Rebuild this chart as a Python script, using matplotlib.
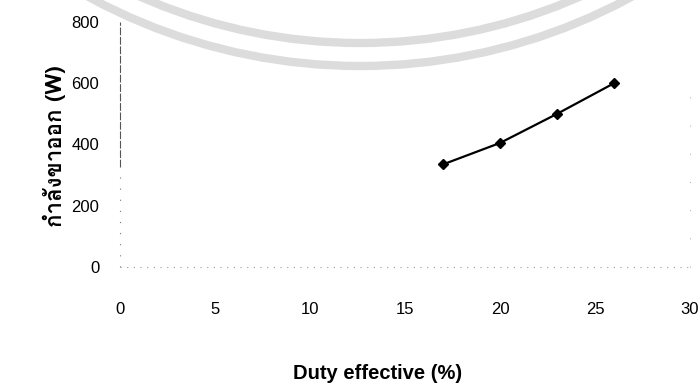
import matplotlib
matplotlib.use("Agg")
import matplotlib.pyplot as plt
from matplotlib import font_manager
from matplotlib.patches import Arc

# Output power versus effective duty
duty = [17, 20, 23, 26]
power = [335, 405, 500, 600]
x_ticks = [0, 5, 10, 15, 20, 25, 30]
y_ticks = [0, 200, 400, 600, 800]
x_label = "Duty effective (%)"
y_label = "กำลังขาออก (W)"


def thai_font():
    """Pick an installed font family covering Thai, preferring one with a bold face."""
    try:
        from fontTools.ttLib import TTFont
    except Exception:
        return None
    found = {}
    for entry in font_manager.fontManager.ttflist:
        try:
            f = TTFont(entry.fname, fontNumber=0, lazy=True)
            cmap = f.getBestCmap() or {}
        except Exception:
            continue
        if ord("ก") in cmap and ord("ำ") in cmap:
            w = entry.weight if isinstance(entry.weight, int) else 400
            found.setdefault(entry.name, set()).add(w)
    if not found:
        return None
    preferred = ["Noto Sans Thai", "Noto Sans Thai UI", "Tahoma", "Loma",
                 "Garuda", "Waree", "Umpush", "Sarabun", "Kinnari", "Norasi"]
    bold = [n for n, ws in found.items() if max(ws) >= 600]
    for name in preferred:
        if name in bold:
            return name
    for name in preferred:
        if name in found:
            return name
    return bold[0] if bold else sorted(found)[0]


base = "Liberation Sans"
thai = thai_font()
label_family = [thai, base] if thai else [base, "DejaVu Sans"]
plt.rcParams["font.family"] = [base, "DejaVu Sans"]

fig = plt.figure(figsize=(7.0, 3.92), dpi=100)
fig.patch.set_facecolor("white")

# faint seal rings across the top of the page
wm = fig.add_axes([0, 0, 1, 1], zorder=0)
wm.set_xlim(0, 700)
wm.set_ylim(392, 0)
wm.axis("off")
for r in (568, 545):
    wm.add_patch(Arc((360, -502), 2 * r, 2 * r, theta1=0, theta2=180,
                     color="#dcdcdc", lw=6.0, zorder=0))

ax = fig.add_axes([120 / 700, 1 - 267 / 392, 570 / 700, 245 / 392], zorder=1)
ax.patch.set_alpha(0)

ax.plot(duty, power, color="black", lw=1.6, marker="D", ms=4.8,
        markerfacecolor="black", markeredgecolor="black", zorder=3,
        clip_on=False)

ax.set_xlim(x_ticks[0], x_ticks[-1])
ax.set_ylim(y_ticks[0], y_ticks[-1])
ax.set_xticks(x_ticks)
ax.set_yticks(y_ticks)
ax.tick_params(axis="both", length=0, labelsize=12, colors="black")
ax.tick_params(axis="x", pad=25)
ax.tick_params(axis="y", pad=15)

for side in ax.spines:
    ax.spines[side].set_visible(False)

# scanned-looking axis lines: dashed upper part of the value axis, sparse dots elsewhere
ax.axvline(0, ymin=0.41, ymax=1.0, color="#555555", lw=0.8,
           ls=(0, (7, 1.5)), clip_on=False)
ax.axvline(0, ymin=0.0, ymax=0.41, color="#777777", lw=0.8,
           ls=(0, (1, 9)), clip_on=False)
ax.axhline(0, color="#999999", lw=0.8, ls=(0, (1, 5)), clip_on=False)
ax.axvline(x_ticks[-1], ymin=0.0, ymax=0.8, color="#aaaaaa", lw=0.7,
           ls=(0, (1, 28)), clip_on=False)

ax.set_xlabel(x_label, fontsize=14.5, fontweight="bold")
ax.xaxis.set_label_coords((378 - 120) / 570, -(364 - 267) / 245)
ax.set_ylabel(y_label, fontsize=16, fontweight="bold", family=label_family)
ax.yaxis.set_label_coords(-(120 - 66) / 570, (267 - 146) / 245)

fig.savefig("out.png", dpi=100, facecolor="white")
